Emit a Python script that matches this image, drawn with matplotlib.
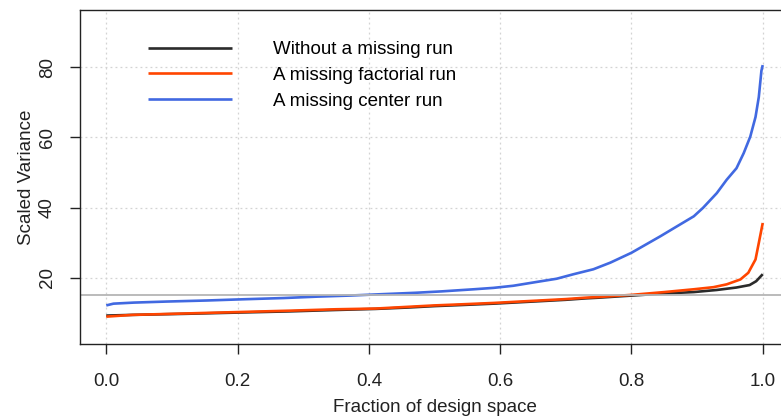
import numpy as np
import matplotlib.pyplot as plt

plt.rcParams['font.family'] = ['Liberation Sans', 'DejaVu Sans']

# fraction of design space (FDS) curves for the three designs
x_full = [0, 0.04, 0.12, 0.21, 0.28, 0.35, 0.41, 0.46, 0.50, 0.54, 0.59, 0.63,
          0.67, 0.70, 0.73, 0.75, 0.80, 0.85, 0.895, 0.93, 0.96, 0.98, 0.99, 1.0]
v_full = [9.2, 9.4, 9.7, 10.1, 10.4, 10.8, 11.1, 11.5, 11.9, 12.2, 12.6, 13.0,
          13.4, 13.7, 14.1, 14.3, 14.9, 15.5, 15.9, 16.5, 17.2, 17.9, 19.0, 21.0]

x_fact = [0, 0.04, 0.12, 0.21, 0.28, 0.35, 0.41, 0.46, 0.50, 0.54, 0.59, 0.63,
          0.67, 0.70, 0.73, 0.75, 0.80, 0.85, 0.895, 0.925, 0.945, 0.966, 0.978,
          0.989, 0.994, 1.0]
v_fact = [8.9, 9.4, 9.8, 10.25, 10.6, 11.0, 11.2, 11.7, 12.1, 12.4, 12.8, 13.2,
          13.6, 13.9, 14.3, 14.5, 15.1, 15.9, 16.7, 17.3, 18.1, 19.5, 21.4,
          25.2, 29.9, 35.6]

x_cent = [0, 0.011, 0.042, 0.092, 0.153, 0.209, 0.27, 0.321, 0.37, 0.42, 0.471,
          0.511, 0.56, 0.59, 0.62, 0.656, 0.686, 0.712, 0.742, 0.768, 0.8, 0.844,
          0.869, 0.895, 0.909, 0.93, 0.945, 0.96, 0.971, 0.981, 0.989, 0.994,
          0.998, 1.0]
v_cent = [12.1, 12.6, 12.9, 13.2, 13.5, 13.85, 14.2, 14.6, 14.9, 15.3, 15.7,
          16.1, 16.7, 17.1, 17.7, 18.8, 19.7, 21.0, 22.4, 24.3, 27.1, 31.8,
          34.6, 37.5, 39.9, 44.1, 47.9, 51.2, 55.5, 60.2, 65.8, 71.5,
          79.0, 80.6]

ref_level = 15
labels = ['Without a missing run', 'A missing factorial run', 'A missing center run']
colors = ['#2b2b2b', '#ff4500', '#4169e1']
x_ticks = [0.0, 0.2, 0.4, 0.6, 0.8, 1.0]
y_ticks = [20, 40, 60, 80]

fs = 13.5

fig = plt.figure(figsize=(7.81, 4.19), dpi=100)
ax = fig.add_axes([80 / 781, 1 - 344 / 419, 709 / 781, 334 / 419])

ax.grid(True, color='#d3d3d3', linestyle=(0, (1.5, 2.5)), linewidth=0.9)
ax.set_axisbelow(True)

series = [(x_full, v_full), (x_fact, v_fact), (x_cent, v_cent)]
for (xs, vs), lab, col in zip(series, labels, colors):
    ax.plot(xs, vs, color=col, lw=1.9, label=lab, solid_capstyle='butt')

ax.axhline(ref_level, color='#b5b5b5', lw=1.3)

ax.set_xlim(-0.04, 1.04)
ax.set_ylim(1.1, 96.3)
ax.set_xticks(x_ticks)
ax.set_xticklabels([f'{t:.1f}' for t in x_ticks])
ax.set_yticks(y_ticks)
ax.set_yticklabels([str(t) for t in y_ticks], rotation=90, va='center')
ax.tick_params(length=7, width=1, labelsize=fs, colors='#222222')
ax.tick_params(axis='x', pad=14)
ax.tick_params(axis='y', pad=10.5)

for s in ax.spines.values():
    s.set_color('#222222')
    s.set_linewidth(1.0)

ax.set_xlabel('Fraction of design space', fontsize=fs, labelpad=6, color='#222222')
ax.set_ylabel('Scaled Variance', fontsize=fs, labelpad=2.5, color='#222222')

ax.legend(loc='upper left', bbox_to_anchor=(148 / 781, 1 - 41 / 419),
          bbox_transform=fig.transFigure, frameon=False, fontsize=fs,
          handlelength=4.48, handletextpad=2.19, labelspacing=0.46,
          borderpad=0, borderaxespad=0)

fig.savefig('out.png', dpi=100)
